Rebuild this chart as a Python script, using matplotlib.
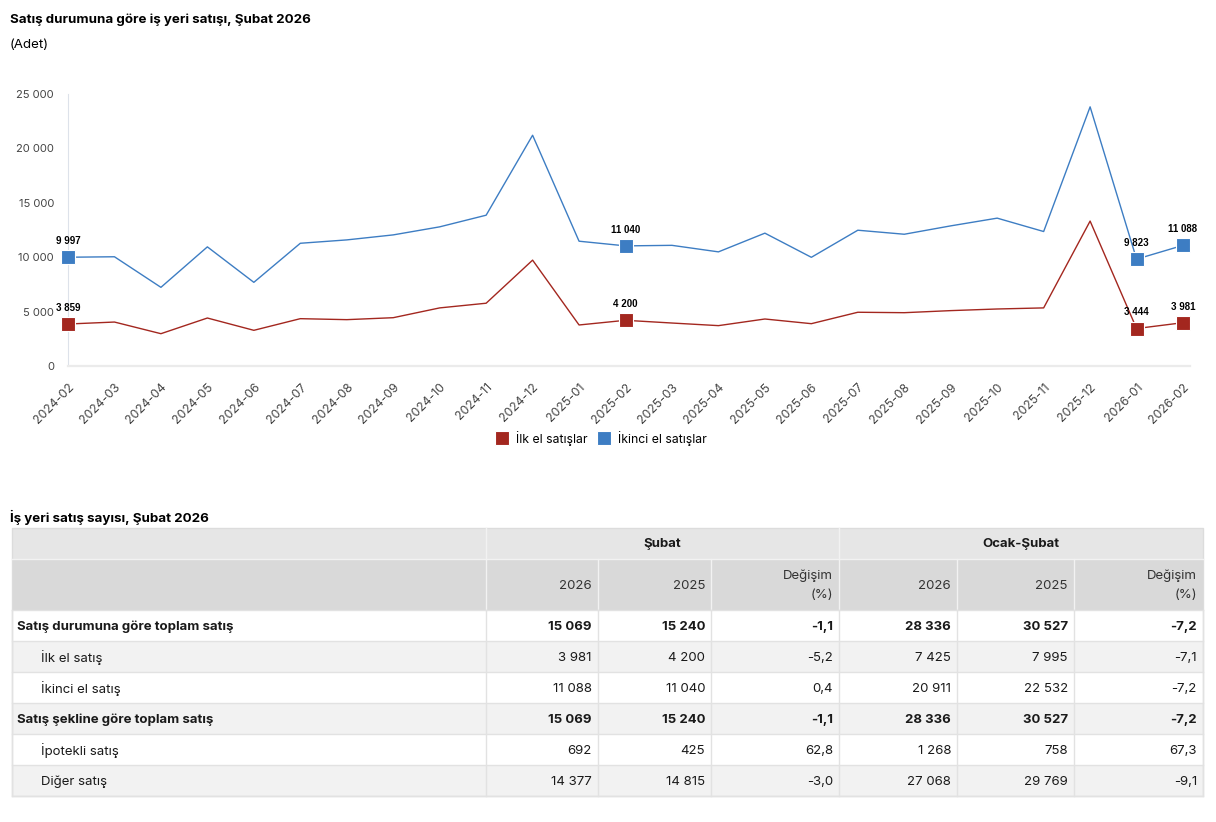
import matplotlib
matplotlib.use("Agg")
import matplotlib.pyplot as plt
from matplotlib.lines import Line2D
from matplotlib.patches import Rectangle

plt.rcParams['font.family'] = ['Inter', 'DejaVu Sans']

# ---------------- data ----------------
months = ['2024-02', '2024-03', '2024-04', '2024-05', '2024-06', '2024-07', '2024-08',
          '2024-09', '2024-10', '2024-11', '2024-12', '2025-01', '2025-02', '2025-03',
          '2025-04', '2025-05', '2025-06', '2025-07', '2025-08', '2025-09', '2025-10',
          '2025-11', '2025-12', '2026-01', '2026-02']
ilk_el = [3859, 4040, 2970, 4410, 3280, 4350, 4260, 4440, 5340, 5770, 9730, 3770, 4200,
          3950, 3710, 4320, 3890, 4940, 4900, 5090, 5240, 5340, 13320, 3444, 3981]
ikinci_el = [9997, 10040, 7230, 10950, 7690, 11280, 11590, 12050, 12790, 13860, 21210,
             11470, 11040, 11090, 10490, 12210, 9990, 12480, 12110, 12880, 13590, 12360,
             23820, 9823, 11088]
labeled_idx = [0, 12, 23, 24]
series_names = ['İlk el satışlar', 'İkinci el satışlar']
yticks = [0, 5000, 10000, 15000, 20000, 25000]

table_title = 'İş yeri satış sayısı, Şubat 2026'
group_headers = ['Şubat', 'Ocak-Şubat']
col_headers = ['2026', '2025', 'Değişim\n(%)', '2026', '2025', 'Değişim\n(%)']
row_labels = ['Satış durumuna göre toplam satış', 'İlk el satış', 'İkinci el satış',
              'Satış şekline göre toplam satış', 'İpotekli satış', 'Diğer satış']
row_bold = [True, False, False, True, False, False]
subat_2026 = [15069, 3981, 11088, 15069, 692, 14377]
subat_2025 = [15240, 4200, 11040, 15240, 425, 14815]
subat_degisim = [-1.1, -5.2, 0.4, -1.1, 62.8, -3.0]
ocak_subat_2026 = [28336, 7425, 20911, 28336, 1268, 27068]
ocak_subat_2025 = [30527, 7995, 22532, 30527, 758, 29769]
ocak_subat_degisim = [-7.2, -7.1, -7.2, -7.2, 67.3, -9.1]

RED = '#a3271f'
BLUE = '#3d7dc3'


def fmt_int(v):
    return '{:,}'.format(int(v)).replace(',', ' ')


def fmt_pct(v):
    return '{:.1f}'.format(v).replace('.', ',')


W, H = 1216, 822
fig = plt.figure(figsize=(W / 100, H / 100), dpi=100)

# ---------------- line chart ----------------
ax = fig.add_axes([68 / W, 1 - 366 / H, (1190 - 68) / W, (366 - 94) / H])
x = list(range(len(months)))
ax.plot(x, ilk_el, color=RED, lw=1.0, zorder=3, clip_on=False)
ax.plot(x, ikinci_el, color=BLUE, lw=1.0, zorder=3, clip_on=False)
for i in labeled_idx:
    for vals, col in ((ilk_el, RED), (ikinci_el, BLUE)):
        ax.plot(x[i], vals[i], marker='s', ms=10, color=col, mec='white', mew=0.8,
                zorder=4, ls='none', clip_on=False)
        ax.annotate(fmt_int(vals[i]), (x[i], vals[i]), xytext=(0, 8),
                    textcoords='offset points', ha='center', va='bottom',
                    fontsize=7, fontweight='bold', family=['Liberation Sans', 'DejaVu Sans'],
                    zorder=5)
ax.set_xlim(0, len(months) - 1 + 0.15)
ax.set_ylim(0, 25000)
ax.set_yticks(yticks)
ax.set_yticklabels([fmt_int(v) for v in yticks], fontsize=8, color='#444444')
ax.set_xticks(x)
ax.set_xticklabels(months, rotation=45, ha='right', rotation_mode='anchor',
                   fontsize=8.8, color='#444444')
ax.tick_params(axis='both', length=0)
ax.tick_params(axis='y', pad=10)
ax.tick_params(axis='x', pad=11)
for s in ('top', 'right'):
    ax.spines[s].set_visible(False)
ax.spines['left'].set_color('#dde2ea')
ax.spines['left'].set_linewidth(0.8)
ax.spines['bottom'].set_color('#ebebeb')
ax.spines['bottom'].set_linewidth(1.6)

handles = [Line2D([], [], marker='s', ls='none', ms=10, color=RED, mec='white', mew=0.8),
           Line2D([], [], marker='s', ls='none', ms=10, color=BLUE, mec='white', mew=0.8)]
fig.legend(handles, series_names, loc='center', bbox_to_anchor=(600 / W, 1 - 438 / H),
           ncol=2, frameon=False, fontsize=8.8, handletextpad=0.5, columnspacing=0.7,
           handlelength=1.3)

fig.text(10 / W, 1 - 20 / H, 'Satış durumuna göre iş yeri satışı, Şubat 2026',
         fontsize=9.6, fontweight='bold', va='center', ha='left')
fig.text(10 / W, 1 - 45 / H, '(Adet)', fontsize=9.6, va='center', ha='left')

# ---------------- table ----------------
tax = fig.add_axes([0, 0, 1, 1], zorder=-1)
tax.set_xlim(0, W)
tax.set_ylim(H, 0)
tax.axis('off')

fig.text(10 / W, 1 - 517 / H, table_title, fontsize=9.6, fontweight='bold',
         va='center', ha='left')

col_x = [12, 486, 598, 711, 839, 957, 1074, 1203]
hdr1 = (528, 559)
hdr2 = (559, 610)
row_top = 610
row_h = 31
grid_col = '#e2e2e2'

# header backgrounds
tax.add_patch(Rectangle((col_x[0], hdr1[0]), col_x[-1] - col_x[0], hdr1[1] - hdr1[0],
                        facecolor='#e6e6e6', edgecolor='none'))
tax.add_patch(Rectangle((col_x[0], hdr2[0]), col_x[-1] - col_x[0], hdr2[1] - hdr2[0],
                        facecolor='#d9d9d9', edgecolor='none'))
# data row backgrounds
for r in range(len(row_labels)):
    y0 = row_top + r * row_h
    fc = 'white' if r % 2 == 0 else '#f2f2f2'
    tax.add_patch(Rectangle((col_x[0], y0), col_x[-1] - col_x[0], row_h,
                            facecolor=fc, edgecolor='none'))

# header lines
hcol = '#f2f2f2'
tax.plot([col_x[0], col_x[-1]], [hdr2[0], hdr2[0]], color=hcol, lw=1)
for cx in (col_x[1], col_x[4]):
    tax.plot([cx, cx], [hdr1[0], hdr2[1]], color=hcol, lw=1)
for cx in (col_x[2], col_x[3], col_x[5], col_x[6]):
    tax.plot([cx, cx], [hdr2[0], hdr2[1]], color=hcol, lw=1)
# body grid
bottom = row_top + len(row_labels) * row_h
for r in range(len(row_labels) + 1):
    yy = row_top + r * row_h
    tax.plot([col_x[0], col_x[-1]], [yy, yy], color=grid_col, lw=1)
for cx in col_x:
    tax.plot([cx, cx], [row_top, bottom], color=grid_col, lw=1)
# outer border
tax.add_patch(Rectangle((col_x[0], hdr1[0]), col_x[-1] - col_x[0], bottom - hdr1[0],
                        facecolor='none', edgecolor='#dcdcdc', lw=1))

FS = 9.5
# group headers
tax.text((col_x[1] + col_x[4]) / 2, sum(hdr1) / 2, group_headers[0], ha='center',
         va='center', fontsize=FS, fontweight='bold', color='#1a1a1a')
tax.text((col_x[4] + col_x[7]) / 2, sum(hdr1) / 2, group_headers[1], ha='center',
         va='center', fontsize=FS, fontweight='bold', color='#1a1a1a')
# column headers
for j, h in enumerate(col_headers):
    right = col_x[j + 2] - 6
    if '\n' in h:
        l1, l2 = h.split('\n')
        tax.text(right, 576, l1, ha='right', va='center', fontsize=FS, color='#333333')
        tax.text(right, 595, l2, ha='right', va='center', fontsize=FS, color='#333333')
    else:
        tax.text(right, sum(hdr2) / 2 + 1, h, ha='right', va='center', fontsize=FS,
                 color='#333333')

cols = [subat_2026, subat_2025, subat_degisim, ocak_subat_2026, ocak_subat_2025,
        ocak_subat_degisim]
for r, lab in enumerate(row_labels):
    yc = row_top + r * row_h + row_h / 2 + 1
    bold = row_bold[r]
    tax.text(17 if bold else 41, yc, lab, ha='left', va='center', fontsize=FS,
             fontweight='bold' if bold else 'normal', color='#1a1a1a')
    for j, colvals in enumerate(cols):
        v = colvals[r]
        s = fmt_pct(v) if j in (2, 5) else fmt_int(v)
        tax.text(col_x[j + 2] - 6, yc, s, ha='right', va='center', fontsize=FS,
                 fontweight='bold' if bold else 'normal', color='#1a1a1a')

fig.savefig('out.png', dpi=100, facecolor='white')
